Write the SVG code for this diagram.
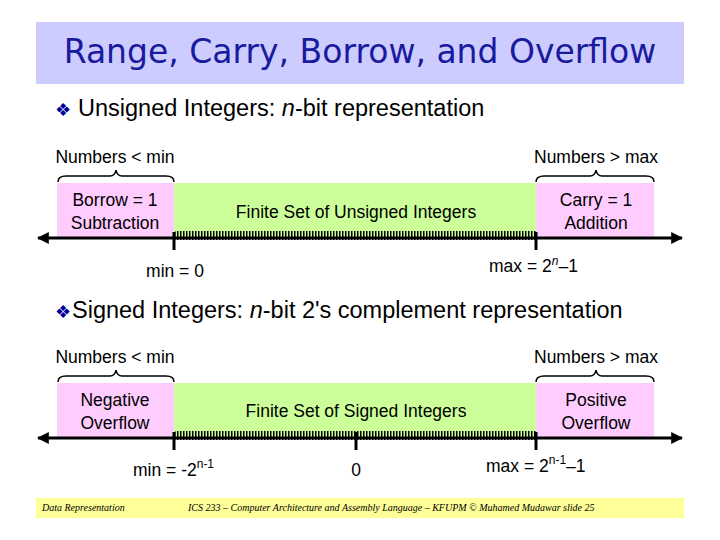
<svg xmlns="http://www.w3.org/2000/svg" width="720" height="540" viewBox="0 0 720 540">
<defs>
<style>
text{font-family:"Liberation Sans",Arial,sans-serif;fill:#000}
.t{font-size:17.5px}
.h{font-size:23.5px}
.b{font-size:18px;fill:#000099}
.pink{fill:#ffccff}
.green{fill:#ccff99}
.ax{stroke:#000;stroke-width:3}
.br{fill:none;stroke:#000;stroke-width:1.5}
.f{font-family:"Liberation Serif",serif;font-style:italic;font-size:10px}
</style>
<marker id="ah" viewBox="0 0 10 10" refX="9" refY="5" markerWidth="4" markerHeight="4" orient="auto-start-reverse"><path d="M0,0L10,5L0,10z"/></marker>
<pattern id="hatch" width="3" height="10" patternUnits="userSpaceOnUse"><rect x="0" y="0" width="1.5" height="10" fill="#000"/></pattern>
</defs>
<rect width="720" height="540" fill="#fff"/>
<g id="title"><rect x="36" y="22" width="648" height="62" fill="#ccccff"/>
<text x="360" y="63" text-anchor="middle" style="font-size:33px;fill:#1a1a9e;font-family:'DejaVu Sans',sans-serif">Range, Carry, Borrow, and Overflow</text></g>
<g id="h1"><text x="55" y="116" class="b">❖</text><text x="78" y="116" class="h">Unsigned Integers: <tspan font-style="italic">n</tspan>-bit representation</text></g>
<g id="unsigned">
<text x="115" y="163" class="t" text-anchor="middle">Numbers &lt; min</text>
<text x="596" y="163" class="t" text-anchor="middle">Numbers &gt; max</text>
<path class="br" d="M58,182 Q58,176 66,176 L110,176 Q115,176 116,170 Q117,176 122,176 L166,176 Q174,176 174,182"/>
<path class="br" d="M536,182 Q536,176 544,176 L590,176 Q595,176 596,170 Q597,176 602,176 L646,176 Q654,176 654,182"/>
<rect x="57" y="183" width="117" height="54" class="pink"/>
<rect x="174" y="183" width="362" height="54" class="green"/>
<rect x="536" y="183" width="118" height="54" class="pink"/>
<rect x="175" y="231" width="361" height="9" fill="url(#hatch)"/>
<line x1="38" y1="238" x2="682" y2="238" class="ax" marker-start="url(#ah)" marker-end="url(#ah)"/>
<line x1="174" y1="232" x2="174" y2="250" class="ax"/>
<line x1="536" y1="232" x2="536" y2="250" class="ax"/>
<text x="115" y="206" class="t" text-anchor="middle">Borrow = 1</text>
<text x="115" y="229" class="t" text-anchor="middle">Subtraction</text>
<text x="356" y="218" class="t" text-anchor="middle">Finite Set of Unsigned Integers</text>
<text x="596" y="206" class="t" text-anchor="middle">Carry = 1</text>
<text x="596" y="229" class="t" text-anchor="middle">Addition</text>
<text x="175" y="277" class="t" text-anchor="middle">min = 0</text>
<text x="489" y="272" class="t">max = 2<tspan dy="-7" font-size="12" font-style="italic">n</tspan><tspan dy="7">–1</tspan></text>
</g>
<g id="h2"><text x="55" y="318" class="b">❖</text><text x="72" y="318" class="h">Signed Integers: <tspan font-style="italic">n</tspan>-bit 2's complement representation</text></g>
<g id="signed">
<text x="115" y="363" class="t" text-anchor="middle">Numbers &lt; min</text>
<text x="596" y="363" class="t" text-anchor="middle">Numbers &gt; max</text>
<path class="br" d="M58,382 Q58,376 66,376 L110,376 Q115,376 116,370 Q117,376 122,376 L166,376 Q174,376 174,382"/>
<path class="br" d="M536,382 Q536,376 544,376 L590,376 Q595,376 596,370 Q597,376 602,376 L646,376 Q654,376 654,382"/>
<rect x="57" y="383" width="117" height="54" class="pink"/>
<rect x="174" y="383" width="362" height="54" class="green"/>
<rect x="536" y="383" width="118" height="54" class="pink"/>
<rect x="175" y="431" width="361" height="9" fill="url(#hatch)"/>
<line x1="38" y1="438" x2="682" y2="438" class="ax" marker-start="url(#ah)" marker-end="url(#ah)"/>
<line x1="174" y1="432" x2="174" y2="450" class="ax"/>
<line x1="356" y1="432" x2="356" y2="450" class="ax"/>
<line x1="536" y1="432" x2="536" y2="450" class="ax"/>
<text x="115" y="406" class="t" text-anchor="middle">Negative</text>
<text x="115" y="429" class="t" text-anchor="middle">Overflow</text>
<text x="356" y="417" class="t" text-anchor="middle">Finite Set of Signed Integers</text>
<text x="596" y="406" class="t" text-anchor="middle">Positive</text>
<text x="596" y="429" class="t" text-anchor="middle">Overflow</text>
<text x="133" y="476" class="t">min = -2<tspan dy="-8" font-size="12">n-1</tspan></text>
<text x="356" y="476" class="t" text-anchor="middle">0</text>
<text x="486" y="472" class="t">max = 2<tspan dy="-8" font-size="12">n-1</tspan><tspan dy="8">–1</tspan></text>
</g>
<g id="footer"><rect x="36" y="498" width="648" height="20" fill="#ffff99"/>
<text x="42" y="511" class="f">Data Representation</text>
<text x="188" y="511" class="f">ICS 233 – Computer Architecture and Assembly Language – KFUPM   © Muhamed Mudawar  slide 25</text></g>
</svg>
